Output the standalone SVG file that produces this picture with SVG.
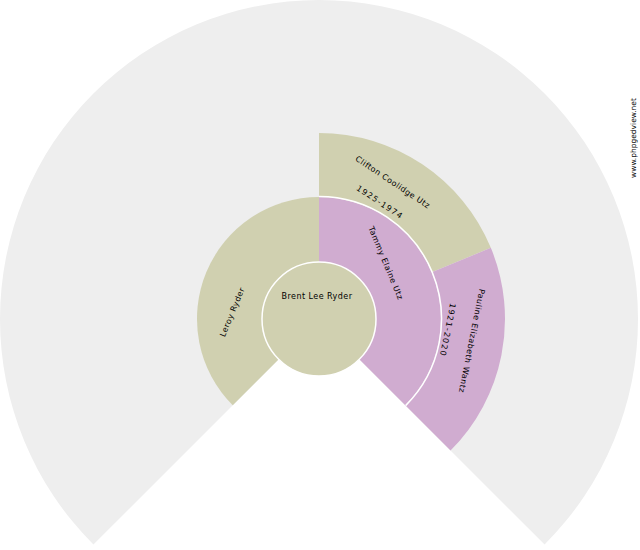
<svg xmlns="http://www.w3.org/2000/svg" width="640" height="550" viewBox="0 0 640 550">
<style>
.k{fill:#d0d0b0}
.p{fill:#d0acd0}
.t{font-family:"DejaVu Sans","Liberation Sans",sans-serif;font-size:8px;fill:#000;text-anchor:middle;letter-spacing:0.45px}
.d{letter-spacing:1.2px}
.w{font-family:"DejaVu Sans","Liberation Sans",sans-serif;font-size:7.5px;fill:#000;text-anchor:middle}
</style>
<rect width="640" height="550" fill="#ffffff"/>
<path d="M319 319 L93.43 544.57 A319 319 0 1 1 544.57 544.57 Z" fill="#eeeeee"/>
<g id="node-leroy">
<path class="k" d="M319 319 L232.73 405.27 A122 122 0 0 1 319 197 Z"/>
<text class="t" transform="translate(232,312) rotate(-67.5)" y="3">Leroy Ryder</text>
</g>
<g id="node-tammy">
<path class="p" d="M319 319 L319 197 A122 122 0 0 1 405.27 405.27 Z"/>
<text class="t" transform="translate(386,263) rotate(67.5)" y="3">Tammy Elaine Utz</text>
</g>
<g id="node-clifton">
<path class="k" d="M319 133 A186 186 0 0 1 490.84 247.82 L431.71 272.31 A122 122 0 0 0 319 197 Z"/>
<text class="t" transform="translate(393,182) rotate(33.75)" y="3">Clifton Coolidge Utz</text>
<text class="t d" transform="translate(380,202) rotate(33.75)" y="3">1925-1974</text>
</g>
<g id="node-pauline">
<path class="p" d="M490.84 247.82 A186 186 0 0 1 450.52 450.52 L405.27 405.27 A122 122 0 0 0 431.71 272.31 Z"/>
<text class="t" transform="translate(472,341) rotate(101.25)" y="3">Pauline Elizabeth Wantz</text>
<text class="t d" transform="translate(448,330) rotate(101.25)" y="3">1921-2020</text>
</g>
<g id="connectors">
<path d="M319 196.5 A122.5 122.5 0 0 1 405.62 405.62" fill="none" stroke="#ffffff" stroke-width="1.5"/>
</g>
<g id="node-brent">
<circle class="k" cx="319" cy="319" r="57" stroke="#ffffff" stroke-width="1.5"/>
<text class="t" x="317" y="299">Brent Lee Ryder</text>
</g>
<text class="w" transform="translate(633,138) rotate(-90)" y="2.5">www.phpgedview.net</text>
</svg>
